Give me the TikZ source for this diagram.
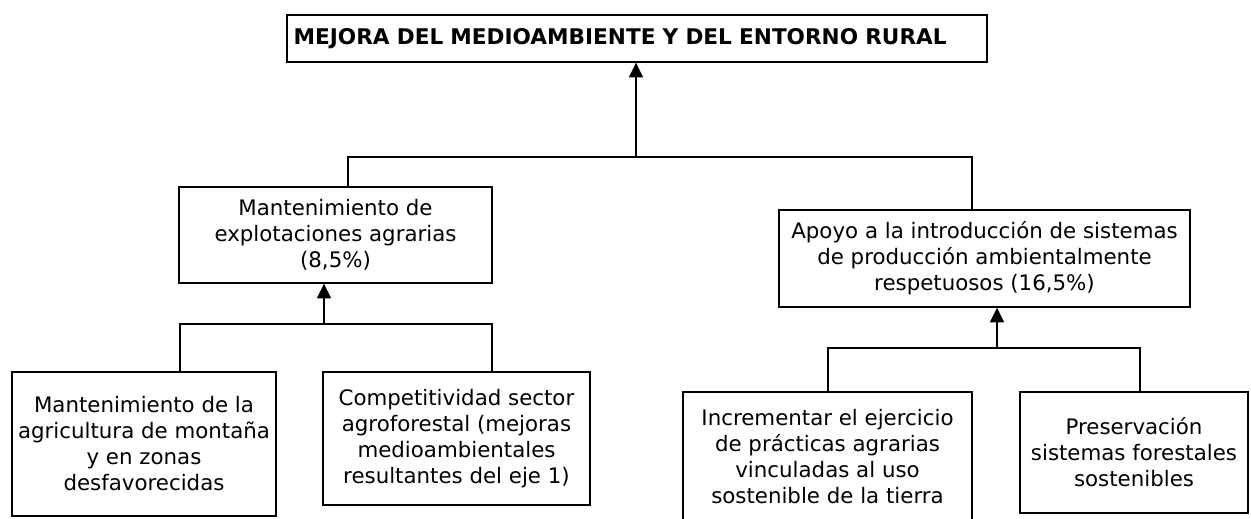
\documentclass[tikz,border=0pt]{standalone}
\usepackage{fontspec}
\setmainfont{DejaVu Sans}
\usetikzlibrary{arrows.meta}
\tikzset{
  box/.style={draw, line width=1pt, align=center, inner sep=0pt, font=\fontsize{16}{19.5}\selectfont},
  link/.style={line width=1.1pt},
  up/.style={link, -{Triangle[length=11pt,width=10.5pt]}}
}
\begin{document}
\begin{tikzpicture}[x=0.75pt, y=-0.75pt]
\clip (0,0) rectangle (1251,518);
\node[box, text width=515pt, inner xsep=5pt, minimum height=35.25pt, align=left, font=\bfseries\fontsize{16.2}{18}\selectfont] (top) at (637,38.5) {MEJORA DEL MEDIOAMBIENTE Y DEL ENTORNO RURAL};
\node[box, minimum width=234.75pt, minimum height=72pt] (ml) at (335.5,235) {Mantenimiento de\\explotaciones agrarias\\(8,5\%)};
\node[box, minimum width=308.25pt, minimum height=72.75pt] (mr) at (984.5,258.5) {Apoyo a la introducción de sistemas\\de producción ambientalmente\\respetuosos (16,5\%)};
\node[box, minimum width=198pt, minimum height=108pt] (bl1) at (144,444) {Mantenimiento de la\\agricultura de montaña\\y en zonas\\desfavorecidas};
\node[box, minimum width=200.25pt, minimum height=99.75pt] (bl2) at (456.5,438.5) {Competitividad sector\\agroforestal (mejoras\\medioambientales\\resultantes del eje 1)};
\node[box, minimum width=216.75pt, minimum height=97.5pt] (br1) at (827.5,457) {Incrementar el ejercicio\\de prácticas agrarias\\vinculadas al uso\\sostenible de la tierra};
\node[box, minimum width=171pt, minimum height=90.75pt] (br2) at (1134,452.5) {Preservación\\sistemas forestales\\sostenibles};
\coordinate (t0) at (636,157);
\coordinate (ta) at (348,157);
\coordinate (tb) at (972,157);
\draw[up] (t0) -- (t0 |- top.south);
\draw[link] (ml.north -| ta) -- (ta) -- (tb) -- (tb |- mr.north);
\coordinate (l0) at (324,324);
\coordinate (la) at (180,324);
\coordinate (lb) at (492,324);
\draw[up] (l0) -- (l0 |- ml.south);
\draw[link] (bl1.north -| la) -- (la) -- (lb) -- (lb |- bl2.north);
\coordinate (r0) at (997,348);
\coordinate (ra) at (828,348);
\coordinate (rb) at (1140,348);
\draw[up] (r0) -- (r0 |- mr.south);
\draw[link] (br1.north -| ra) -- (ra) -- (rb) -- (rb |- br2.north);
\end{tikzpicture}
\end{document}
